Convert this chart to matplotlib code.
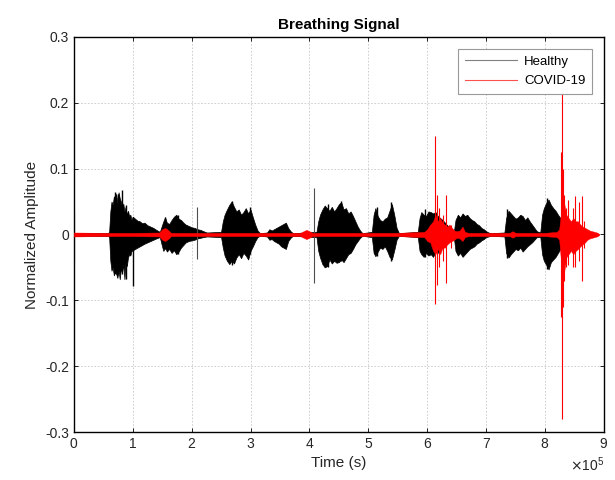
"""Breathing signal: healthy vs COVID-19 waveform envelopes."""
import matplotlib
matplotlib.use("Agg")
import matplotlib.pyplot as plt
from matplotlib.lines import Line2D
from matplotlib.ticker import ScalarFormatter
import numpy as np

plt.rcParams["font.family"] = ["Liberation Sans", "DejaVu Sans"]

# ---------- data (time in units of 1e5 samples) ----------
# healthy: min/max envelope of the waveform
healthy_t = [0.00, 0.58,
             0.60, 0.62, 0.64, 0.66, 0.68, 0.70, 0.72, 0.74, 0.76, 0.78, 0.80, 0.82, 0.84, 0.86,
             0.88, 0.90, 0.92, 0.94, 0.96, 0.98, 1.00, 1.04, 1.08, 1.12, 1.16, 1.20, 1.25, 1.30,
             1.35, 1.40, 1.46,
             1.49, 1.52, 1.55, 1.58, 1.62, 1.66, 1.70, 1.74, 1.78, 1.82, 1.86, 1.90, 1.95,
             2.00, 2.05, 2.10, 2.15, 2.20, 2.26,
             2.50, 2.53, 2.56, 2.60, 2.64, 2.68, 2.72, 2.76, 2.80, 2.84, 2.88, 2.92, 2.96, 3.00,
             3.04, 3.08, 3.12, 3.16,
             3.28, 3.32, 3.36, 3.40, 3.44, 3.48, 3.52, 3.56, 3.60, 3.64, 3.68, 3.72,
             4.12, 4.15, 4.18, 4.22, 4.26, 4.30, 4.34, 4.38, 4.42, 4.46, 4.50, 4.54, 4.58, 4.62,
             4.66, 4.70, 4.74, 4.78, 4.82, 4.86, 4.90,
             5.06, 5.09, 5.12, 5.16, 5.20, 5.24, 5.28, 5.32, 5.36, 5.40, 5.44, 5.48, 5.52,
             5.84, 5.87, 5.90, 5.94, 5.98, 6.02, 6.06, 6.10, 6.14, 6.18, 6.22, 6.26, 6.30, 6.34,
             6.38, 6.42, 6.45,
             6.48, 6.52, 6.56, 6.60, 6.64, 6.68, 6.72, 6.76, 6.80, 6.84, 6.88, 6.92, 6.96,
             7.00, 7.04, 7.08,
             7.31, 7.34, 7.38, 7.42, 7.46, 7.50, 7.54, 7.58, 7.62, 7.66, 7.70, 7.74, 7.78, 7.82,
             7.86, 7.89,
             7.92, 7.95, 7.98, 8.02, 8.06, 8.10, 8.14, 8.18, 8.22, 8.26, 8.30, 8.34, 8.38,
             8.60]
healthy_hi = [0.002, 0.002,
              0.004, 0.035, 0.050, 0.045, 0.058, 0.052, 0.062, 0.048, 0.064, 0.055, 0.050, 0.040, 0.047, 0.035,
              0.042, 0.030, 0.036, 0.028, 0.030, 0.022, 0.027, 0.024, 0.021, 0.020, 0.017, 0.018, 0.014, 0.012,
              0.010, 0.007, 0.004,
              0.012, 0.020, 0.026, 0.018, 0.016, 0.022, 0.027, 0.030, 0.024, 0.022, 0.018, 0.015, 0.013,
              0.011, 0.010, 0.008, 0.007, 0.005, 0.003,
              0.004, 0.020, 0.030, 0.038, 0.045, 0.050, 0.042, 0.035, 0.038, 0.030, 0.034, 0.040, 0.032, 0.038,
              0.026, 0.015, 0.006, 0.002,
              0.003, 0.008, 0.006, 0.008, 0.010, 0.012, 0.014, 0.016, 0.018, 0.010, 0.005, 0.002,
              0.004, 0.020, 0.030, 0.038, 0.044, 0.040, 0.036, 0.042, 0.035, 0.040, 0.046, 0.049, 0.038, 0.040,
              0.032, 0.035, 0.028, 0.020, 0.012, 0.006, 0.002,
              0.004, 0.030, 0.040, 0.028, 0.022, 0.020, 0.024, 0.026, 0.036, 0.046, 0.030, 0.010, 0.002,
              0.004, 0.025, 0.034, 0.030, 0.028, 0.035, 0.034, 0.032, 0.034, 0.028, 0.025, 0.022, 0.018, 0.014,
              0.010, 0.006, 0.003,
              0.022, 0.030, 0.026, 0.032, 0.028, 0.030, 0.025, 0.022, 0.020, 0.016, 0.014, 0.010, 0.008,
              0.005, 0.003, 0.002,
              0.003, 0.025, 0.036, 0.032, 0.028, 0.024, 0.026, 0.030, 0.028, 0.022, 0.026, 0.020, 0.015, 0.010,
              0.005, 0.004,
              0.004, 0.030, 0.040, 0.048, 0.053, 0.045, 0.040, 0.036, 0.030, 0.025, 0.018, 0.010, 0.002,
              0.002]
healthy_lo = [-0.002, -0.002,
              -0.004, -0.040, -0.055, -0.050, -0.062, -0.058, -0.060, -0.066, -0.055, -0.068, -0.052, -0.058, -0.045, -0.068,
              -0.040, -0.048, -0.035, -0.030, -0.032, -0.025, -0.024, -0.022, -0.020, -0.018, -0.016, -0.014, -0.012, -0.010,
              -0.008, -0.006, -0.004,
              -0.015, -0.025, -0.020, -0.026, -0.022, -0.028, -0.024, -0.030, -0.026, -0.020, -0.016, -0.012, -0.010,
              -0.009, -0.008, -0.006, -0.005, -0.004, -0.003,
              -0.004, -0.020, -0.032, -0.040, -0.045, -0.040, -0.044, -0.035, -0.030, -0.036, -0.028, -0.032, -0.038, -0.025,
              -0.018, -0.010, -0.004, -0.002,
              -0.003, -0.008, -0.007, -0.010, -0.012, -0.014, -0.018, -0.020, -0.022, -0.010, -0.005, -0.002,
              -0.004, -0.025, -0.035, -0.045, -0.050, -0.048, -0.038, -0.044, -0.040, -0.043, -0.042, -0.038, -0.042, -0.036,
              -0.030, -0.028, -0.022, -0.015, -0.010, -0.005, -0.002,
              -0.004, -0.028, -0.033, -0.026, -0.020, -0.022, -0.018, -0.025, -0.034, -0.038, -0.024, -0.008, -0.002,
              -0.004, -0.025, -0.030, -0.034, -0.028, -0.032, -0.030, -0.034, -0.026, -0.028, -0.022, -0.020, -0.016, -0.012,
              -0.008, -0.005, -0.003,
              -0.025, -0.032, -0.028, -0.034, -0.030, -0.026, -0.022, -0.020, -0.018, -0.014, -0.012, -0.009, -0.007,
              -0.004, -0.003, -0.002,
              -0.003, -0.028, -0.035, -0.030, -0.026, -0.022, -0.024, -0.020, -0.026, -0.022, -0.018, -0.015, -0.012, -0.008,
              -0.004, -0.004,
              -0.004, -0.030, -0.040, -0.046, -0.053, -0.042, -0.038, -0.034, -0.028, -0.022, -0.016, -0.008, -0.002,
              -0.002]
# tallest peaks inside the bursts
burst_spike_t = [0.70, 0.75, 0.81, 0.89, 1.00, 1.55, 1.77, 2.68, 2.99,
                 4.32, 4.54, 5.15, 5.38, 5.96, 7.35, 8.03]
burst_spike_hi = [0.064, 0.062, 0.068, 0.045, 0.026, 0.026, 0.030, 0.051, 0.041,
                  0.046, 0.051, 0.041, 0.049, 0.038, 0.038, 0.056]
burst_spike_lo = [-0.050, -0.060, -0.060, -0.068, -0.079, -0.022, -0.030, -0.046, -0.030,
                  -0.050, -0.040, -0.033, -0.041, -0.034, -0.035, -0.053]
# isolated healthy clicks
healthy_spike_t = [0.01, 2.10, 4.07]
healthy_spike_hi = [0.035, 0.042, 0.071]
healthy_spike_lo = [-0.041, -0.037, -0.073]

# COVID-19: min/max envelope
covid_t = [0.00, 0.50, 1.00, 1.45, 1.50, 1.55, 1.60, 1.65, 2.00, 3.00, 3.85, 3.90, 3.95, 4.00, 4.05,
           4.50, 5.00, 5.50, 5.95, 6.00, 6.05, 6.10, 6.14, 6.18, 6.22, 6.26, 6.30, 6.34, 6.38, 6.42,
           6.46, 6.50, 6.55, 6.60, 6.64, 6.70, 7.00, 7.40, 7.45, 7.50, 8.00, 8.20, 8.24, 8.28, 8.32,
           8.36, 8.40, 8.44, 8.48, 8.52, 8.56, 8.60, 8.64, 8.68, 8.72, 8.76, 8.80, 8.84, 8.88, 8.92]
covid_hi = [0.003, 0.0025, 0.0025, 0.003, 0.008, 0.010, 0.007, 0.0025, 0.0025, 0.0025, 0.0025, 0.005, 0.007, 0.005, 0.0025,
            0.0025, 0.0025, 0.0025, 0.004, 0.008, 0.015, 0.020, 0.030, 0.020, 0.025, 0.018, 0.015, 0.012, 0.015, 0.010,
            0.006, 0.005, 0.006, 0.012, 0.004, 0.0025, 0.0025, 0.0025, 0.005, 0.0025, 0.0025, 0.004, 0.008, 0.040, 0.050,
            0.030, 0.025, 0.020, 0.025, 0.020, 0.020, 0.015, 0.012, 0.010, 0.008, 0.006, 0.005, 0.004, 0.003, 0.001]
covid_lo = [-0.003, -0.0025, -0.0025, -0.003, -0.008, -0.010, -0.007, -0.0025, -0.0025, -0.0025, -0.0025, -0.005, -0.007, -0.005, -0.0025,
            -0.0025, -0.0025, -0.0025, -0.004, -0.010, -0.012, -0.025, -0.030, -0.022, -0.030, -0.020, -0.020, -0.015, -0.012, -0.010,
            -0.008, -0.005, -0.006, -0.010, -0.004, -0.0025, -0.0025, -0.0025, -0.005, -0.0025, -0.0025, -0.004, -0.008, -0.050, -0.060,
            -0.035, -0.030, -0.025, -0.030, -0.025, -0.022, -0.018, -0.015, -0.012, -0.008, -0.006, -0.005, -0.004, -0.003, -0.001]
# COVID-19 cough spikes
covid_spike_t = [6.13, 6.16, 6.20, 6.26, 6.32, 6.41,
                 8.27, 8.29, 8.30, 8.32, 8.36, 8.39, 8.47, 8.51, 8.57, 8.62, 8.66]
covid_spike_hi = [0.149, 0.060, 0.040, 0.030, 0.060, 0.015,
                  0.126, 0.235, 0.100, 0.060, 0.040, 0.053, 0.040, 0.058, 0.050, 0.058, 0.020]
covid_spike_lo = [-0.106, -0.076, -0.050, -0.040, -0.073, -0.020,
                  -0.125, -0.281, -0.110, -0.070, -0.050, -0.046, -0.050, -0.050, -0.040, -0.070, -0.020]

SCALE = 1e5

fig = plt.figure(figsize=(6.15, 4.8), dpi=100)
ax = fig.add_axes([0.120, 0.100, 0.862, 0.823])

ht = np.array(healthy_t) * SCALE
ax.fill_between(ht, healthy_lo, healthy_hi, color="black", lw=0.5, zorder=2)
ax.vlines(np.array(burst_spike_t) * SCALE, burst_spike_lo, burst_spike_hi,
          color="black", lw=1.0, zorder=2)
ax.vlines(np.array(healthy_spike_t) * SCALE, healthy_spike_lo, healthy_spike_hi,
          color="0.3", lw=0.8, zorder=2)

ct = np.array(covid_t) * SCALE
ax.fill_between(ct, covid_lo, covid_hi, color="red", lw=0.3, zorder=3)
ax.vlines(np.array(covid_spike_t) * SCALE, covid_spike_lo, covid_spike_hi,
          color="red", lw=0.8, zorder=3)

ax.set_xlim(0, 9 * SCALE)
ax.set_ylim(-0.3, 0.3)
ax.set_xticks(np.arange(0, 10) * SCALE)
ax.set_yticks(np.arange(-0.3, 0.31, 0.1))
ax.set_yticklabels(["-0.3", "-0.2", "-0.1", "0", "0.1", "0.2", "0.3"])
fmt = ScalarFormatter(useMathText=True)
fmt.set_powerlimits((0, 0))
ax.xaxis.set_major_formatter(fmt)
ax.xaxis.get_offset_text().set_fontsize(10)
ax.xaxis.get_offset_text().set_color("#262626")

ax.grid(True, color="#c8c8c8", linestyle=(0, (2, 2)), lw=0.6)
ax.tick_params(direction="in", length=3, width=0.6, top=True, right=True,
               labelsize=10, labelcolor="#262626")
for s in ax.spines.values():
    s.set_linewidth(1.0)
    s.set_color("black")

ax.set_title("Breathing Signal", fontsize=11, fontweight="bold", pad=6)
ax.set_xlabel("Time (s)", fontsize=11, color="#262626")
ax.set_ylabel("Normalized Amplitude", fontsize=11, color="#262626")

handles = [Line2D([], [], color="0.5", lw=0.8),
           Line2D([], [], color="#ff5050", lw=0.8)]
leg = ax.legend(handles, ["Healthy", "COVID-19"], loc="upper right", fontsize=9.5,
                fancybox=False, framealpha=1, edgecolor="0.6", handlelength=4.0,
                handletextpad=0.5, borderaxespad=0.9, labelspacing=0.55,
                borderpad=0.5)
leg.get_frame().set_linewidth(0.8)
leg.set_zorder(5)

fig.savefig("out.png", dpi=100)
